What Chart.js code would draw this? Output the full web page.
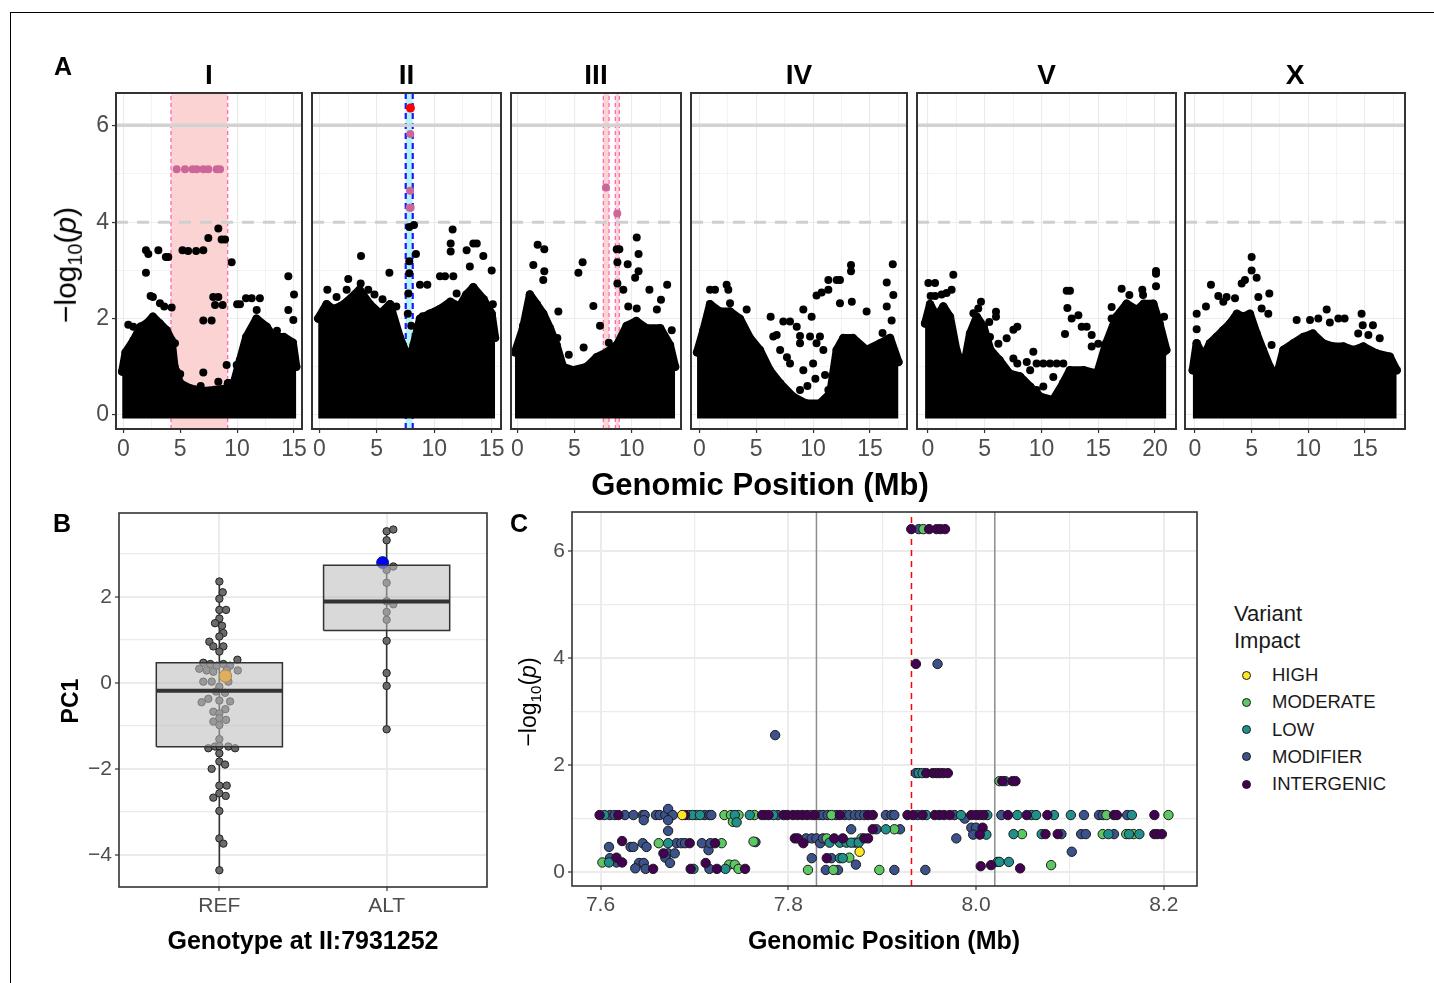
<!DOCTYPE html>
<html>
<head>
<meta charset="utf-8">
<title>GWAS mapping figure</title>
<script src="https://cdn.jsdelivr.net/npm/chart.js@4.4.1/dist/chart.umd.min.js"></script>
<style>
  html, body { margin: 0; padding: 0; background: #fff; }
  body { position: relative; width: 1434px; height: 983px; overflow: hidden;
         font-family: "Liberation Sans", Arial, Helvetica, sans-serif; }
  canvas { position: absolute; }
  .frame { position: absolute; left: 10px; top: 12px; width: 1500px; height: 1000px;
           border-left: 1.5px solid #000; border-top: 1.5px solid #000; }
  .txt { position: absolute; white-space: nowrap; transform: translate(-50%, -50%);
         color: #000; line-height: 1; }
  .rot { transform: translate(-50%, -50%) rotate(-90deg); }
  .b { font-weight: bold; }
  sub { font-size: 0.66em; vertical-align: -0.28em; }
  .legend { position: absolute; left: 1234px; top: 600px; color: #1a1a1a; }
  .legend .head { font-size: 22px; line-height: 27px; margin-bottom: 7px; }
  .legend .row { position: relative; height: 27.3px; font-size: 18.5px; line-height: 27.3px; padding-left: 38px; }
  .legend .dot { position: absolute; left: 8px; top: 9.5px; width: 7px; height: 7px;
                 border-radius: 50%; border: 1px solid #1a1a1a; }
</style>
</head>
<body>
<div class="frame"></div>
<script>
// ---------- Panel A : genome-wide scan ----------
const chromNames = ['I', 'II', 'III', 'IV', 'V', 'X'];
const chromRange = [[-0.64, 15.70], [-0.635, 15.81], [-0.55, 14.31], [-0.73, 18.25], [-0.97, 21.85], [-0.88, 18.53]];
const mbTicks = [0, 2.5, 5, 7.5, 10, 12.5, 15, 17.5, 20];
const mbLabels = [0, 5, 10, 15, 20];
const logpTicks = [0, 1, 2, 3, 4, 5, 6];
const logpLabels = [0, 2, 4, 6];
const bonferroni = 6.01;
const suggestive = 4;

// upper edge of the dense cloud of markers, [Mb, -log10 p]
const envI = [[-0.1, 0.9], [0.2, 1.3], [0.9, 1.55], [1.5, 1.83], [2.05, 1.9], [2.6, 2.04], [3.2, 1.9], [3.8, 1.76], [4.25, 1.55], [4.5, 1.0], [5.0, 0.66], [5.9, 0.55], [7.0, 0.5], [8.0, 0.52], [9.1, 0.55], [9.2, 0.66], [9.7, 0.66], [10.25, 1.14], [10.8, 1.62], [11.7, 2.0], [12.6, 1.83], [13.2, 1.62], [14.1, 1.62], [14.9, 1.5], [15.2, 1.0]];
const envII = [[-0.1, 2.0], [0.64, 2.3], [1.2, 2.2], [1.8, 2.25], [2.4, 2.35], [3.5, 2.6], [4.4, 2.3], [5.3, 2.1], [6.15, 2.3], [7.0, 1.62], [7.45, 1.35], [7.75, 0.95], [8.2, 1.45], [8.76, 2.0], [9.6, 2.1], [10.5, 2.2], [11.4, 2.35], [12.2, 2.25], [12.8, 2.5], [13.4, 2.65], [14.3, 2.4], [15.0, 2.1], [15.3, 1.6]];
const envIII = [[-0.2, 1.3], [0.5, 1.8], [1.1, 2.5], [1.7, 2.3], [2.27, 2.1], [2.86, 1.8], [3.44, 1.45], [4.0, 1.0], [4.9, 0.93], [6.06, 1.0], [6.94, 1.2], [7.8, 1.3], [8.7, 1.45], [9.56, 1.85], [10.4, 1.95], [11.3, 1.8], [12.5, 1.8], [13.35, 1.45], [13.8, 1.0]];
const envIV = [[-0.2, 1.3], [0.35, 1.75], [0.94, 2.3], [1.8, 2.15], [2.7, 2.15], [3.57, 2.0], [4.45, 1.6], [5.33, 1.35], [6.2, 0.93], [7.1, 0.66], [8.26, 0.38], [9.4, 0.24], [10.6, 0.24], [11.5, 0.45], [12.07, 1.35], [12.66, 1.6], [13.5, 1.6], [14.7, 1.35], [15.9, 1.49], [16.76, 1.6], [17.5, 1.1]];
const envV = [[-0.26, 1.9], [0.18, 2.3], [0.76, 2.04], [1.35, 2.25], [1.94, 2.04], [2.5, 1.35], [3.1, 0.93], [3.7, 1.69], [4.3, 2.04], [4.9, 1.83], [5.5, 1.35], [6.3, 1.14], [7.2, 0.86], [8.1, 0.8], [9.0, 0.59], [9.9, 0.38], [11.0, 0.31], [11.9, 0.66], [12.5, 0.93], [13.7, 0.93], [14.9, 0.86], [15.7, 1.49], [16.6, 2.04], [17.5, 2.31], [18.4, 2.18], [19.0, 2.31], [19.85, 2.31], [20.4, 1.9], [21.0, 1.35]];
const envX = [[-0.2, 0.93], [0.15, 1.49], [0.74, 1.21], [1.32, 1.49], [1.9, 1.62], [2.5, 1.76], [3.1, 1.9], [3.7, 2.1], [4.26, 2.04], [4.85, 2.1], [5.44, 1.69], [6.0, 1.35], [6.6, 1.0], [7.2, 0.8], [7.8, 1.35], [8.7, 1.49], [9.56, 1.62], [10.4, 1.69], [11.3, 1.49], [12.2, 1.42], [13.1, 1.42], [14.0, 1.35], [14.85, 1.42], [16.0, 1.28], [17.2, 1.21], [17.8, 0.93]];

// markers standing out above the cloud
const outI = [[0.44, 1.87], [0.88, 1.83], [1.99, 2.95], [1.99, 3.42], [2.2, 3.34], [2.4, 2.47], [2.6, 2.45], [3.08, 3.42], [3.22, 2.32], [3.6, 2.25], [3.74, 3.28], [3.95, 3.28], [4.25, 2.23], [4.54, 1.49], [5.2, 3.42], [5.7, 3.4], [6.4, 3.4], [7.03, 3.42], [7.47, 3.67], [8.35, 3.87], [8.64, 3.64], [8.94, 3.64], [9.52, 3.17], [7.03, 1.96], [7.76, 1.96], [7.9, 2.45], [8.06, 2.28], [8.73, 2.28], [8.35, 2.45], [7.03, 0.88], [8.35, 0.69], [9.08, 1.04], [9.96, 1.04], [10.0, 2.3], [10.25, 2.3], [10.78, 2.42], [11.28, 2.42], [11.72, 2.18], [12.0, 2.42], [14.5, 2.88], [15.0, 2.5], [14.94, 1.97], [14.5, 2.18], [12.5, 1.75], [13.5, 1.75], [12.2, 1.5], [13.0, 1.35], [5.0, 0.85], [6.8, 0.6], [4.7, 0.9]];
const outII = [[2.38, 2.6], [2.52, 2.82], [3.63, 3.3], [3.6, 2.73], [4.26, 2.6], [6.1, 2.95], [6.7, 2.25], [7.83, 3.9], [8.24, 3.94], [7.83, 3.19], [7.83, 2.94], [8.41, 3.34], [7.75, 2.52], [8.76, 2.7], [9.4, 2.7], [10.5, 2.88], [10.94, 2.88], [11.66, 2.88], [11.43, 3.56], [11.43, 3.39], [11.6, 3.85], [12.82, 3.42], [13.4, 3.56], [13.7, 3.56], [14.27, 3.3], [15.0, 3.0], [13.1, 3.08], [11.95, 2.52], [0.7, 2.6], [1.5, 2.45], [4.8, 2.5], [5.5, 2.4], [7.7, 2.1], [8.0, 1.85], [9.0, 2.05], [10.0, 2.1], [15.1, 2.3]];
const outIII = [[1.78, 3.53], [2.36, 3.44], [1.4, 3.11], [2.36, 2.98], [2.27, 2.8], [3.59, 2.15], [5.34, 2.95], [5.71, 3.17], [6.65, 2.26], [7.23, 1.85], [8.69, 3.44], [8.92, 3.44], [8.75, 3.17], [8.75, 2.73], [9.65, 3.13], [10.44, 3.68], [10.6, 3.34], [10.6, 2.98], [10.3, 2.85], [11.55, 2.6], [13.1, 2.7], [12.56, 2.39], [12.2, 2.19], [10.44, 2.21], [9.7, 2.25], [9.27, 2.6], [13.5, 1.76], [0.5, 1.85], [3.5, 1.6], [4.5, 1.25], [5.8, 1.4], [8.0, 1.5]];
const outIV = [[0.94, 2.6], [1.38, 2.6], [2.4, 2.7], [2.55, 2.6], [0.94, 2.21], [2.7, 2.32], [4.16, 2.19], [6.27, 2.04], [6.8, 1.66], [7.38, 1.94], [7.97, 1.94], [8.56, 1.83], [8.85, 1.64], [9.14, 2.19], [9.87, 2.04], [10.3, 2.48], [10.75, 2.54], [11.34, 2.6], [11.34, 2.8], [12.07, 2.8], [12.36, 2.8], [13.33, 3.11], [13.33, 2.98], [12.36, 2.32], [13.4, 2.35], [14.7, 2.15], [17.0, 3.13], [16.47, 2.75], [17.05, 2.49], [16.47, 2.25], [16.9, 1.96], [16.1, 1.7], [6.5, 1.63], [7.1, 1.35], [7.7, 1.2], [7.97, 1.07], [8.85, 1.49], [9.14, 0.93], [10.0, 1.07], [10.6, 1.63], [10.9, 1.35], [11.05, 0.83], [11.34, 0.52], [8.26, 0.31], [8.85, 0.52], [9.73, 1.63], [10.3, 1.49], [9.5, 0.6], [10.2, 0.75]];
const outV = [[0.03, 2.74], [0.62, 2.74], [0.23, 2.47], [0.62, 2.47], [1.2, 2.5], [1.64, 2.53], [2.08, 2.6], [2.23, 2.91], [1.35, 2.24], [4.67, 2.35], [4.43, 2.21], [4.0, 2.11], [5.99, 2.14], [5.99, 2.04], [5.4, 1.93], [5.46, 1.62], [6.2, 1.48], [6.93, 1.59], [7.52, 1.77], [7.87, 1.83], [7.52, 1.17], [7.87, 1.07], [8.7, 1.1], [9.28, 1.31], [9.0, 0.93], [9.57, 1.07], [10.16, 1.07], [10.75, 1.07], [11.34, 1.07], [11.92, 1.07], [11.04, 0.79], [10.16, 0.59], [9.57, 0.52], [10.46, 0.07], [11.04, 0.03], [8.4, 0.72], [7.96, 0.31], [12.22, 2.58], [12.51, 2.58], [12.28, 2.22], [12.66, 2.0], [13.25, 2.07], [13.54, 1.83], [13.98, 1.83], [14.42, 1.66], [12.07, 1.68], [14.42, 1.42], [15.0, 1.48], [16.18, 2.24], [16.18, 2.0], [17.06, 2.62], [17.74, 2.49], [18.88, 2.6], [18.95, 2.49], [19.41, 2.26], [20.09, 2.99], [20.09, 2.93], [20.09, 2.67], [20.8, 2.04], [20.82, 1.31]];
const outX = [[0.15, 2.1], [0.15, 1.78], [0.97, 2.25], [1.41, 2.7], [2.06, 2.47], [2.5, 2.35], [2.79, 2.45], [3.53, 2.42], [4.12, 2.73], [4.41, 2.8], [5.0, 3.28], [5.0, 3.0], [5.44, 2.85], [5.59, 2.45], [6.56, 2.52], [6.47, 2.1], [5.88, 2.21], [8.97, 1.97], [10.15, 1.97], [10.88, 2.0], [11.62, 2.19], [11.9, 1.92], [12.65, 2.0], [13.2, 2.0], [14.7, 2.1], [14.8, 1.86], [14.4, 1.69], [15.7, 1.86], [15.3, 1.66], [16.3, 1.59], [6.76, 1.45], [17.2, 1.17], [16.9, 0.95]];

// markers inside the QTL intervals
const peakI = [[4.69, 5.1], [5.42, 5.1], [6.09, 5.1], [6.45, 5.1], [7.03, 5.1], [7.47, 5.1], [8.2, 5.1], [8.5, 5.1]];
const peakII = [[7.92, 5.83], [7.9, 4.65], [7.86, 4.3], [7.95, 4.3]];
const peakIII = [[7.75, 4.72], [8.74, 4.18]];
const topMarkerII = [[7.93, 6.37]];

// QTL confidence intervals (Mb)
const qtlI = [[4.19, 9.17]];
const qtlII = [[7.52, 8.13]];
const qtlIII = [[7.52, 8.02], [8.57, 8.92]];

// ---------- Panel B : PC1 split by genotype ----------
const genoCats = ['REF', 'ALT'];
const boxQ1 = [-1.485, 1.22];
const boxMedian = [-0.18, 1.895];
const boxQ3 = [0.47, 2.74];
const boxLow = [-4.36, -1.08];
const boxHigh = [2.36, 3.57];
const pc1Ticks = [-4, -3, -2, -1, 0, 1, 2, 3];
const pc1Labels = [-4, -2, 0, 2];
// [offset from category centre, PC1]
const refStrains = [[0, 2.36], [0.02, 2.11], [0, 1.96], [0, 1.70], [0.04, 1.70], [0, 1.50], [-0.026, 1.39], [0.016, 1.33], [0.024, 1.16], [0, 1.08], [-0.06, 0.96], [-0.036, 0.85], [0.024, 0.85], [0, 0.73], [-0.096, 0.47], [-0.054, 0.44], [-0.016, 0.40], [0.024, 0.44], [0.064, 0.40], [0.108, 0.54], [-0.12, 0.33], [-0.076, 0.29], [-0.036, 0.26], [0.044, 0.30], [0.11, 0.29], [-0.096, 0.03], [-0.046, 0.03], [0.054, 0.03], [0, -0.09], [-0.02, -0.2], [0.034, -0.23], [-0.066, -0.37], [-0.106, -0.45], [0, -0.41], [0.064, -0.43], [0.036, -0.61], [-0.036, -0.67], [0, -0.71], [-0.036, -0.90], [0, -0.82], [0.04, -0.86], [0, -0.98], [0, -1.31], [-0.066, -1.52], [-0.026, -1.48], [0, -1.47], [0.054, -1.48], [0.094, -1.52], [0, -1.64], [0, -1.83], [0.034, -1.90], [-0.046, -2.0], [0, -2.39], [0.044, -2.39], [-0.036, -2.67], [0, -2.57], [0.038, -2.63], [0, -2.98], [0, -3.62], [0.024, -3.74], [0, -4.36]];
const altStrains = [[0, 3.53], [0.04, 3.57], [0, 3.32], [0.04, 2.71], [0, 2.63], [0, 2.33], [0, 1.90], [0.04, 1.83], [0, 1.65], [0, 1.47], [0, 0.98], [0, 0.23], [0, -0.07], [0, -1.08]];
const refHighlight = [[0.036, 0.16]];
const altHighlight = [[-0.024, 2.80]];

// ---------- Panel C : fine mapping at II:7.93 Mb ----------
const impactNames = ['HIGH', 'MODERATE', 'LOW', 'MODIFIER', 'INTERGENIC'];
const impactColors = ['#FDE725', '#5DC863', '#21908C', '#3B528B', '#440154'];
const fineTicks = [7.6, 7.7, 7.8, 7.9, 8.0, 8.1, 8.2];
const fineLabels = [7.6, 7.8, 8.0, 8.2];
const intervalEdges = [7.83, 8.02];
const leadMarker = 7.931252;
const cHigh = [[7.687, 1.066], [7.876, 0.38]];
const cModerate = [[7.694, 1.066], [7.702, 1.066], [7.732, 1.066], [7.739, 1.066], [7.747, 1.066], [7.764, 1.066], [7.741, 0.94], [7.662, 0.54], [7.729, 0.54], [7.763, 0.57], [7.602, 0.18], [7.737, 0.14], [7.743, 0.14], [7.747, 0.06], [7.944, 6.41], [7.825, 1.066], [7.846, 1.066], [7.913, 0.80], [7.841, 0.63], [7.878, 0.63], [7.865, 0.27], [7.821, 0.04], [7.848, 0.04], [7.897, 0.04], [8.025, 1.70], [8.139, 1.066], [8.205, 1.066], [8.049, 0.71], [8.135, 0.71], [8.160, 0.71], [8.168, 0.71], [8.080, 0.13]];
const cLow = [[7.604, 1.066], [7.698, 1.066], [7.706, 1.066], [7.743, 1.066], [7.759, 1.066], [7.775, 1.066], [7.784, 1.066], [7.745, 0.93], [7.672, 0.54], [7.609, 0.18], [7.699, 0.06], [7.733, 0.06], [7.939, 1.85], [7.943, 1.85], [7.947, 1.066], [7.984, 1.066], [8.012, 1.066], [7.904, 0.80], [8.011, 0.70], [7.844, 0.55], [7.855, 0.55], [7.862, 0.55], [7.867, 0.55], [7.875, 0.55], [7.855, 0.26], [7.858, 0.26], [8.023, 0.19], [8.044, 1.066], [8.059, 1.066], [8.064, 1.066], [8.083, 1.066], [8.101, 1.066], [8.166, 1.066], [8.040, 0.71], [8.070, 0.71], [8.141, 0.71], [8.163, 0.71], [8.174, 0.71], [8.025, 0.19], [8.035, 0.19]];
const cModifier = [[7.610, 1.066], [7.615, 1.066], [7.626, 1.066], [7.635, 1.066], [7.645, 1.066], [7.647, 1.066], [7.659, 1.066], [7.663, 1.066], [7.669, 1.066], [7.672, 1.18], [7.677, 1.066], [7.711, 1.066], [7.716, 1.066], [7.718, 1.066], [7.789, 1.066], [7.646, 0.97], [7.672, 0.97], [7.672, 0.77], [7.609, 0.47], [7.632, 0.47], [7.635, 0.47], [7.645, 0.54], [7.649, 0.47], [7.681, 0.54], [7.686, 0.54], [7.690, 0.54], [7.708, 0.54], [7.715, 0.41], [7.717, 0.54], [7.765, 0.56], [7.672, 0.35], [7.679, 0.35], [7.669, 0.27], [7.674, 0.17], [7.610, 0.26], [7.617, 0.18], [7.641, 0.17], [7.646, 0.17], [7.637, 0.07], [7.648, 0.06], [7.716, 0.06], [7.786, 2.56], [7.939, 6.41], [7.959, 3.89], [7.936, 1.85], [7.833, 1.066], [7.837, 1.066], [7.842, 1.066], [7.851, 1.066], [7.860, 1.066], [7.865, 1.066], [7.871, 1.066], [7.876, 1.066], [7.881, 1.066], [7.904, 1.066], [7.910, 1.066], [7.913, 1.066], [7.938, 1.066], [7.977, 1.066], [7.988, 1.0], [8.004, 1.066], [7.867, 0.80], [7.894, 0.80], [7.919, 0.80], [7.995, 0.83], [8.000, 0.83], [7.979, 0.63], [7.997, 0.70], [7.819, 0.63], [7.825, 0.63], [7.830, 0.63], [7.834, 0.54], [7.837, 0.63], [7.871, 0.55], [7.825, 0.26], [7.846, 0.26], [7.872, 0.14], [7.840, 0.04], [7.853, 0.04], [7.913, 0.04], [7.946, 0.04], [8.031, 1.70], [8.027, 1.066], [8.115, 1.066], [8.131, 1.066], [8.135, 1.066], [8.161, 1.066], [8.091, 0.71], [8.112, 0.71], [8.117, 0.71], [8.147, 0.71], [8.102, 0.38]];
const cIntergenic = [[7.599, 1.066], [7.619, 1.066], [7.690, 1.066], [7.772, 1.066], [7.779, 1.066], [7.795, 1.066], [7.623, 0.58], [7.695, 0.54], [7.722, 0.54], [7.667, 0.35], [7.617, 0.27], [7.623, 0.18], [7.656, 0.06], [7.696, 0.06], [7.712, 0.17], [7.724, 0.06], [7.754, 0.06], [7.931, 6.41], [7.950, 6.41], [7.958, 6.41], [7.962, 6.41], [7.967, 6.41], [7.936, 3.89], [7.947, 1.85], [7.954, 1.85], [7.958, 1.85], [7.961, 1.85], [7.965, 1.85], [7.970, 1.85], [7.799, 1.066], [7.805, 1.066], [7.810, 1.066], [7.815, 1.066], [7.820, 1.066], [7.828, 1.066], [7.855, 1.066], [7.885, 1.066], [7.890, 1.066], [7.927, 1.066], [7.933, 1.066], [7.943, 1.066], [7.956, 1.066], [7.961, 1.066], [7.966, 1.066], [7.972, 1.066], [7.995, 1.066], [8.000, 1.066], [8.008, 1.066], [7.890, 0.80], [8.007, 0.83], [8.004, 0.70], [7.807, 0.63], [7.810, 0.63], [7.816, 0.54], [7.849, 0.63], [7.858, 0.63], [7.881, 0.63], [7.885, 0.63], [7.841, 0.26], [8.005, 0.11], [8.016, 0.13], [8.028, 1.70], [8.039, 1.70], [8.042, 1.70], [8.034, 1.066], [8.054, 1.066], [8.076, 1.066], [8.147, 1.066], [8.150, 1.066], [8.190, 1.066], [8.074, 0.71], [8.087, 0.71], [8.190, 0.71], [8.193, 0.71], [8.198, 0.71], [8.047, 0.07]];

// ---------- helpers ----------
const FONT = '"Liberation Sans", Arial, Helvetica, sans-serif';

function xy(arr) {
  return arr.map(p => ({ x: p[0], y: p[1] }));
}

function lineSet(points, color, width, dash, order, extra) {
  return Object.assign({
    type: 'line', data: xy(points), borderColor: color, borderWidth: width,
    borderDash: dash, pointRadius: 0, fill: false, tension: 0, order: order
  }, extra || {});
}

function dotSet(points, fill, radius, border, borderWidth, order) {
  return {
    type: 'scatter', data: xy(points), backgroundColor: fill, borderColor: border,
    borderWidth: borderWidth, pointRadius: radius, order: order
  };
}

// ggplot style panel border around the plotting area
const panelFrame = {
  id: 'panelFrame',
  afterDraw(chart, args, opts) {
    const a = chart.chartArea;
    const ctx = chart.ctx;
    ctx.save();
    ctx.strokeStyle = '#333333';
    ctx.lineWidth = opts.width;
    ctx.strokeRect(a.left, a.top, a.right - a.left, a.bottom - a.top);
    ctx.restore();
  }
};

function axis(o) {
  const major = ctx => ctx.tick && o.major.includes(ctx.tick.value);
  return {
    type: 'linear', min: o.min, max: o.max,
    afterBuildTicks: s => { s.ticks = o.ticks.map(v => ({ value: v })); },
    afterFit: s => { if (o.horizontal) s.height = o.size; else s.width = o.size; },
    ticks: {
      display: o.showLabels, autoSkip: false, maxRotation: 0, padding: 3,
      color: '#4d4d4d', font: { family: FONT, size: o.fontSize },
      callback: v => (o.major.includes(v) ? o.format(v) : '')
    },
    grid: {
      color: '#ebebeb',
      lineWidth: ctx => (major(ctx) ? o.gridMajor : o.gridMinor),
      drawTicks: o.showLabels, tickLength: 4, tickWidth: 1.2,
      tickColor: ctx => (major(ctx) ? '#333333' : 'rgba(0,0,0,0)')
    },
    border: { display: false }
  };
}

function makeChart(o) {
  // top padding must cover half a tick label, otherwise Chart.js shifts the plot area
  const padL = 12, padR = 24, padT = 22;
  const canvas = document.createElement('canvas');
  canvas.width = padL + o.yAxisW + o.width + padR;
  canvas.height = padT + o.height + o.xAxisH;
  canvas.style.left = (o.left - o.yAxisW - padL) + 'px';
  canvas.style.top = (o.top - padT) + 'px';
  document.body.appendChild(canvas);
  return new Chart(canvas, {
    type: 'scatter',
    data: { datasets: o.datasets },
    options: {
      responsive: false, animation: false, events: [],
      layout: { padding: { left: padL, right: padR, top: padT, bottom: 0 } },
      plugins: { legend: { display: false }, tooltip: { enabled: false }, panelFrame: { width: o.frameWidth } },
      scales: { x: o.x, y: o.y }
    },
    plugins: [panelFrame]
  });
}

function addText(html, x, y, size, cls) {
  const d = document.createElement('div');
  d.className = 'txt ' + (cls || '');
  d.style.left = x + 'px';
  d.style.top = y + 'px';
  d.style.fontSize = size + 'px';
  d.innerHTML = html;
  document.body.appendChild(d);
}

const minus = v => (v < 0 ? '\u2212' + Math.abs(v) : String(v));

// ---------- Panel A ----------
const stripBoxes = [[116, 302], [312, 501], [511, 681], [691, 907], [917, 1176], [1185, 1405]];
const envelopes = [envI, envII, envIII, envIV, envV, envX];
const outliers = [outI, outII, outIII, outIV, outV, outX];
const peaks = [peakI, peakII, peakIII, [], [], []];
const qtls = [qtlI, qtlII, qtlIII, [], [], []];
const yMinA = -0.29, yMaxA = 6.68;

chromNames.forEach((name, k) => {
  const [xMin, xMax] = chromRange[k];
  const ds = [];
  const cyan = k === 1;
  qtls[k].forEach(r => {
    ds.push(lineSet([[r[0], yMaxA], [r[1], yMaxA]], 'rgba(0,0,0,0)', 1, [], 30,
      { fill: { value: yMinA }, backgroundColor: cyan ? '#b4f3f7' : '#fbd3d3' }));
    r.forEach(edge => {
      ds.push(lineSet([[edge, yMinA], [edge, yMaxA]], cyan ? '#1a1aff' : '#ff69b4',
        cyan ? 2.2 : 1.3, cyan ? [6, 4] : [4, 3], 28));
    });
  });
  ds.push(lineSet([[xMin, bonferroni], [xMax, bonferroni]], '#d2d2d2', 3.5, [], 26));
  ds.push(lineSet([[xMin, suggestive], [xMax, suggestive]], '#cfcfcf', 3, [12, 9], 26));
  ds.push(lineSet(envelopes[k], '#000', 8, [], 20, {
    fill: { value: -0.07 }, backgroundColor: '#000', borderJoinStyle: 'round', borderCapStyle: 'round',
    pointRadius: 4.2, pointBackgroundColor: '#000', pointBorderWidth: 0
  }));
  ds.push(dotSet(outliers[k], '#000', 4, '#000', 0, 18));
  if (peaks[k].length) ds.push(dotSet(peaks[k], '#cc6699', 4, '#cc6699', 0, 4));
  if (k === 1) ds.push(dotSet(topMarkerII, '#ff0000', 4.5, '#ff0000', 0, 2));

  const [L, R] = stripBoxes[k];
  makeChart({
    left: L, top: 93, width: R - L, height: 336,
    yAxisW: k === 0 ? 40 : 0, xAxisH: 44, frameWidth: 2,
    datasets: ds,
    x: axis({ horizontal: true, size: 44, min: xMin, max: xMax,
      ticks: mbTicks.filter(t => t <= xMax), major: mbLabels, format: String,
      showLabels: true, fontSize: 23, gridMajor: 1.1, gridMinor: 0.6 }),
    y: axis({ horizontal: false, size: k === 0 ? 40 : 0, min: yMinA, max: yMaxA,
      ticks: logpTicks, major: logpLabels, format: String,
      showLabels: k === 0, fontSize: 23, gridMajor: 1.1, gridMinor: 0.6 })
  });
  addText(name, (L + R) / 2, 75, 28, 'b');
});

addText('A', 63, 66, 25, 'b');
addText('Genomic Position (Mb)', 760, 484, 31, 'b');
addText('\u2212log<sub>10</sub>(<i>p</i>)', 68, 265, 30, 'rot');

// ---------- Panel B ----------
(function () {
  const half = 0.377;
  const ds = [];
  genoCats.forEach((cat, i) => {
    const c = i + 1, l = c - half, r = c + half;
    ds.push(lineSet([[c, boxLow[i]], [c, boxHigh[i]]], '#333333', 1.6, [], 12));
    ds.push(lineSet([[l, boxQ3[i]], [r, boxQ3[i]]], 'rgba(0,0,0,0)', 1, [], 6,
      { fill: { value: boxQ1[i] }, backgroundColor: 'rgba(188,188,188,0.57)' }));
    ds.push(lineSet([[l, boxQ1[i]], [l, boxQ3[i]], [r, boxQ3[i]], [r, boxQ1[i]], [l, boxQ1[i]]],
      '#333333', 1.5, [], 5));
    ds.push(lineSet([[l, boxMedian[i]], [r, boxMedian[i]]], '#333333', 4, [], 4));
  });
  const shift = (arr, c) => arr.map(p => [c + p[0], p[1]]);
  ds.push(dotSet(shift(refStrains, 1), '#6b6b6b', 3.7, '#222222', 1, 10));
  ds.push(dotSet(shift(altStrains, 2), '#6b6b6b', 3.7, '#222222', 1, 10));
  ds.push(dotSet(shift(altHighlight, 2), '#0000ff', 6, '#1a1a80', 1, 8));
  ds.push(dotSet(shift(refHighlight, 1), '#e0ae5e', 6.2, '#a88850', 1, 2));

  makeChart({
    left: 119, top: 513, width: 368, height: 374,
    yAxisW: 40, xAxisH: 40, frameWidth: 1.6,
    datasets: ds,
    x: axis({ horizontal: true, size: 40, min: 0.4, max: 2.6, ticks: [1, 2], major: [1, 2],
      format: v => genoCats[v - 1], showLabels: true, fontSize: 21, gridMajor: 2, gridMinor: 1.2 }),
    y: axis({ horizontal: false, size: 40, min: -4.75, max: 3.955, ticks: pc1Ticks, major: pc1Labels,
      format: minus, showLabels: true, fontSize: 21, gridMajor: 2, gridMinor: 1.2 })
  });
  addText('B', 62, 523, 25, 'b');
  addText('Genotype at II:7931252', 303, 940, 25, 'b');
  addText('PC1', 70, 701, 23, 'b rot');
})();

// ---------- Panel C ----------
(function () {
  const yMin = -0.26, yMax = 6.73;
  const ds = [];
  intervalEdges.forEach(e => ds.push(lineSet([[e, yMin], [e, yMax]], '#8c8c8c', 1.5, [], 30)));
  ds.push(lineSet([[leadMarker, yMin], [leadMarker, yMax]], '#ff0000', 1.5, [6, 5], 29));
  const byImpact = [cHigh, cModerate, cLow, cModifier, cIntergenic];
  const drawOrder = [6, 9, 8, 10, 7];
  byImpact.forEach((arr, i) => ds.push(dotSet(arr, impactColors[i], 4.7, '#1a1a1a', 1, drawOrder[i])));

  makeChart({
    left: 572, top: 512, width: 625, height: 374,
    yAxisW: 32, xAxisH: 40, frameWidth: 1.6,
    datasets: ds,
    x: axis({ horizontal: true, size: 40, min: 7.5696, max: 8.2354, ticks: fineTicks, major: fineLabels,
      format: v => v.toFixed(1), showLabels: true, fontSize: 21, gridMajor: 2, gridMinor: 1.2 }),
    y: axis({ horizontal: false, size: 32, min: yMin, max: yMax, ticks: logpTicks, major: logpLabels,
      format: String, showLabels: true, fontSize: 21, gridMajor: 2, gridMinor: 1.2 })
  });
  addText('C', 519, 523, 25, 'b');
  addText('Genomic Position (Mb)', 884, 940, 25, 'b');
  addText('\u2212log<sub>10</sub>(<i>p</i>)', 530, 702, 23, 'rot');

  const lg = document.createElement('div');
  lg.className = 'legend';
  let html = '<div class="head">Variant<br>Impact</div>';
  impactNames.forEach((n, i) => {
    html += '<div class="row"><span class="dot" style="background:' + impactColors[i] + '"></span>' + n + '</div>';
  });
  lg.innerHTML = html;
  document.body.appendChild(lg);
})();
</script>
</body>
</html>
